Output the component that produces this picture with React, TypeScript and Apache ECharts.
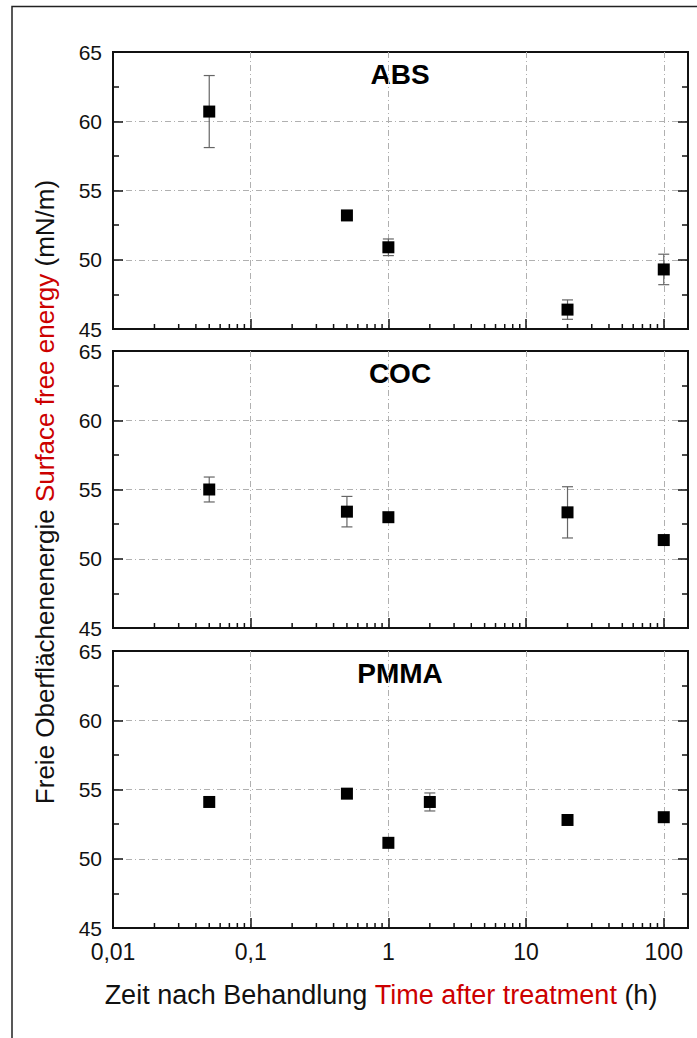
import React, { useEffect, useRef } from "react";
import * as echarts from "echarts";

// ---- data ----
const absTime = [0.05, 0.5, 1, 20, 100];
const absValue = [60.7, 53.2, 50.9, 46.4, 49.3];
const absError = [2.6, 0, 0.6, 0.7, 1.1];

const cocTime = [0.05, 0.5, 1, 20, 100];
const cocValue = [55.0, 53.4, 53.0, 53.35, 51.35];
const cocError = [0.9, 1.1, 0, 1.85, 0];

const pmmaTime = [0.05, 0.5, 1, 2, 20, 100];
const pmmaValue = [54.1, 54.7, 51.15, 54.1, 52.8, 53.0];
const pmmaError = [0, 0, 0, 0.65, 0, 0];

const panelNames = ["ABS", "COC", "PMMA"];
const xTickLabels: [number, string][] = [
  [0.01, "0,01"],
  [0.1, "0,1"],
  [1, "1"],
  [10, "10"],
  [100, "100"],
];
const minorXTicks = [
  0.02, 0.03, 0.04, 0.05, 0.06, 0.07, 0.08, 0.09,
  0.2, 0.3, 0.4, 0.5, 0.6, 0.7, 0.8, 0.9,
  2, 3, 4, 5, 6, 7, 8, 9,
  20, 30, 40, 50, 60, 70, 80, 90,
];
const yMin = 45;
const yMax = 65;
const yInterval = 5;
const xMin = 0.01;
const xMax = 150;

const FONT = '"Liberation Sans", Arial, Helvetica, sans-serif';
const RED = "#cc0000";

export default function App() {
  const ref = useRef<HTMLDivElement>(null);
  useEffect(() => {
    if (!ref.current) return;
    const chart = echarts.init(ref.current, undefined, { renderer: "svg" });

    const gridTops = [52, 351, 651];
    const gridH = 277;
    const panels = [
      { t: absTime, v: absValue, e: absError },
      { t: cocTime, v: cocValue, e: cocError },
      { t: pmmaTime, v: pmmaValue, e: pmmaError },
    ];

    const grids: any[] = [];
    const xAxes: any[] = [];
    const yAxes: any[] = [];
    const series: any[] = [];
    const graphics: any[] = [];
    const splitStyle = { color: "#b0b0b0", width: 1, type: [6, 3, 1, 3] };

    panels.forEach((p, i) => {
      grids.push({
        left: 113,
        right: 9,
        top: gridTops[i],
        height: gridH,
        show: true,
        borderColor: "#111",
        borderWidth: 2,
        backgroundColor: "transparent",
      });
      xAxes.push({
        type: "log",
        logBase: 10,
        gridIndex: i,
        min: xMin,
        max: xMax,
        position: "bottom",
        axisLine: { show: true, onZero: false, lineStyle: { color: "#111", width: 2 } },
        axisTick: { show: true, inside: true, length: 10, lineStyle: { color: "#111", width: 1.5 } },
        axisLabel: {
          show: i === 2,
          margin: 12,
          fontSize: 23,
          fontFamily: FONT,
          color: "#111",
          formatter: (val: number) => {
            const m = xTickLabels.find((d) => Math.abs(d[0] - val) / d[0] < 1e-6);
            return m ? m[1] : "";
          },
        },
        splitLine: { show: true, showMinLine: false, showMaxLine: false, lineStyle: splitStyle },
      });
      // left y axis
      yAxes.push({
        type: "value",
        gridIndex: i,
        min: yMin,
        max: yMax,
        interval: yInterval,
        position: "left",
        axisLine: { show: true, lineStyle: { color: "#111", width: 2 } },
        axisTick: { show: true, inside: true, length: 10, lineStyle: { color: "#111", width: 1.5 } },
        minorTick: { show: true, splitNumber: 2, length: 6, lineStyle: { color: "#111", width: 1.5 } },
        axisLabel: {
          show: true,
          margin: 11,
          fontSize: 21,
          fontFamily: FONT,
          color: "#111",
        },
        splitLine: { show: true, showMinLine: false, showMaxLine: false, lineStyle: splitStyle },
      });
      // right y axis (mirror ticks)
      yAxes.push({
        type: "value",
        gridIndex: i,
        min: yMin,
        max: yMax,
        interval: yInterval,
        position: "right",
        axisLine: { show: true, lineStyle: { color: "#111", width: 2 } },
        axisTick: { show: true, inside: true, length: 10, lineStyle: { color: "#111", width: 1.5 } },
        minorTick: { show: true, splitNumber: 2, length: 6, lineStyle: { color: "#111", width: 1.5 } },
        axisLabel: { show: false },
        splitLine: { show: false },
      });

      const yIdx = i * 2;
      // error bars
      series.push({
        type: "custom",
        xAxisIndex: i,
        yAxisIndex: yIdx,
        clip: false,
        z: 3,
        data: p.t.map((t, k) => [t, p.v[k], p.e[k]]),
        encode: { x: 0, y: 1 },
        renderItem: (params: any, api: any) => {
          const x = api.value(0);
          const y = api.value(1);
          const e = api.value(2);
          if (!e) return { type: "group", children: [] };
          const top = api.coord([x, y + e]);
          const bot = api.coord([x, y - e]);
          const hw = 5.5;
          const st = { stroke: "#666", lineWidth: 1.2 };
          return {
            type: "group",
            children: [
              { type: "line", shape: { x1: top[0], y1: top[1], x2: bot[0], y2: bot[1] }, style: st },
              { type: "line", shape: { x1: top[0] - hw, y1: top[1], x2: top[0] + hw, y2: top[1] }, style: st },
              { type: "line", shape: { x1: bot[0] - hw, y1: bot[1], x2: bot[0] + hw, y2: bot[1] }, style: st },
            ],
          };
        },
      });
      // markers
      series.push({
        type: "scatter",
        xAxisIndex: i,
        yAxisIndex: yIdx,
        z: 5,
        symbol: "rect",
        symbolSize: 12,
        itemStyle: { color: "#000", opacity: 1 },
        data: p.t.map((t, k) => [t, p.v[k]]),
      });
      // minor x ticks (log)
      series.push({
        type: "custom",
        xAxisIndex: i,
        yAxisIndex: yIdx,
        clip: false,
        z: 4,
        silent: true,
        data: minorXTicks.map((x) => [x, yMin]),
        encode: { x: 0, y: 1 },
        renderItem: (params: any, api: any) => {
          const pt = api.coord([api.value(0), api.value(1)]);
          return {
            type: "line",
            shape: { x1: pt[0], y1: pt[1], x2: pt[0], y2: pt[1] - 5 },
            style: { stroke: "#111", lineWidth: 1.5 },
          };
        },
      });

      graphics.push({
        type: "text",
        x: 400,
        y: gridTops[i] + 22,
        style: {
          text: panelNames[i],
          font: `bold 28px ${FONT}`,
          fill: "#000",
          align: "center",
          verticalAlign: "middle",
        },
      });
    });

    // outer frame
    graphics.push({
      type: "polyline",
      shape: { points: [[12, 1040], [12, 6.5], [700, 6.5]] },
      style: { stroke: "#222", lineWidth: 1.5, fill: "none" },
    });
    // y axis name
    graphics.push({
      type: "text",
      x: 45,
      y: 492,
      rotation: Math.PI / 2,
      style: {
        text: "{a|Freie Oberflächenenergie }{b|Surface free energy}{a| (mN/m)}",
        font: `26px ${FONT}`,
        align: "center",
        verticalAlign: "middle",
        rich: {
          a: { fill: "#111", fontSize: 26, fontFamily: FONT },
          b: { fill: RED, fontSize: 26, fontFamily: FONT },
        },
      },
    });
    // x axis name
    graphics.push({
      type: "text",
      x: 381,
      y: 995,
      style: {
        text: "{a|Zeit nach Behandlung }{b|Time after treatment}{a| (h)}",
        font: `27px ${FONT}`,
        align: "center",
        verticalAlign: "middle",
        rich: {
          a: { fill: "#111", fontSize: 27, fontFamily: FONT },
          b: { fill: RED, fontSize: 27, fontFamily: FONT },
        },
      },
    });

    chart.setOption({
      animation: false,
      backgroundColor: "#fff",
      grid: grids,
      xAxis: xAxes,
      yAxis: yAxes,
      series,
      graphic: graphics,
    });
    return () => chart.dispose();
  }, []);

  return (
    <div
      ref={ref}
      style={{ position: "absolute", left: 0, top: 0, width: 697, height: 1038 }}
    />
  );
}
